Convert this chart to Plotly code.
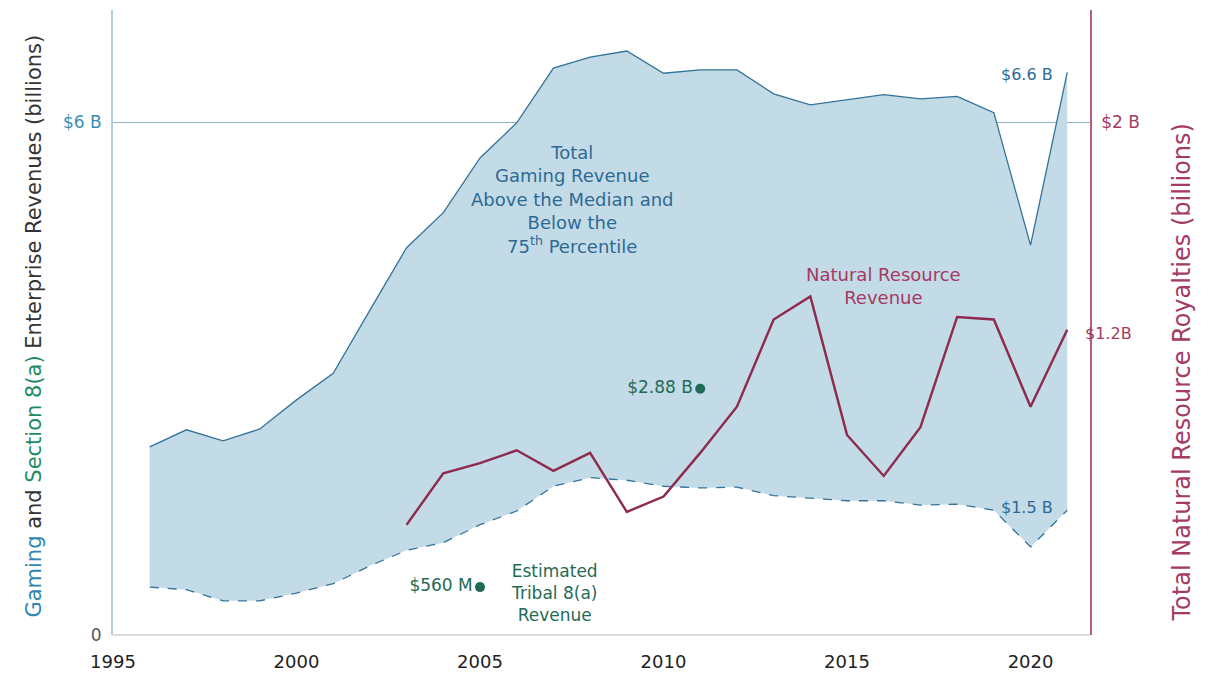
import plotly.graph_objects as go

years = list(range(1996, 2022))
gaming_75th = [2.20, 2.40, 2.27, 2.41, 2.75, 3.06, 3.80, 4.53, 4.94, 5.58, 5.99, 6.63, 6.76,
               6.83, 6.57, 6.61, 6.61, 6.33, 6.20, 6.26, 6.32, 6.27, 6.30, 6.11, 4.56, 6.58]
gaming_median = [0.56, 0.53, 0.40, 0.40, 0.49, 0.60, 0.81, 0.99, 1.08, 1.29, 1.45, 1.74, 1.84,
                 1.81, 1.74, 1.72, 1.73, 1.63, 1.60, 1.57, 1.57, 1.52, 1.53, 1.46, 1.03, 1.46]
nr_years = list(range(2003, 2022))
nat_resource = [0.43, 0.63, 0.67, 0.72, 0.64, 0.71, 0.48, 0.54, 0.71, 0.89, 1.23, 1.32,
                0.78, 0.62, 0.81, 1.24, 1.23, 0.89, 1.19]
tribal_8a_years = [2005, 2011]
tribal_8a = [0.56, 2.88]
tribal_8a_labels = ["$560 M", "$2.88 B"]
x_ticks = [1995, 2000, 2005, 2010, 2015, 2020]

BLUE_LINE = "#33739a"
FILL = "#c3dae7"
MAROON = "#8e2a4d"
MAROON_L = "#b0607d"
TXT_MAROON = "#a33b62"
TXT_BLUE = "#2d6a93"
GREEN = "#1f6b55"
WIDE = "DejaVu Sans, sans-serif"

Y_TOP = 7.31

fig = go.Figure()
fig.add_trace(go.Scatter(x=years, y=gaming_median, mode="lines",
                         line=dict(color=BLUE_LINE, width=1.3, dash="dash"),
                         showlegend=False, hoverinfo="skip"))
fig.add_trace(go.Scatter(x=years, y=gaming_75th, mode="lines", fill="tonexty",
                         fillcolor=FILL, line=dict(color=BLUE_LINE, width=1.3),
                         showlegend=False))
fig.add_trace(go.Scatter(x=nr_years, y=nat_resource, mode="lines", yaxis="y2",
                         line=dict(color=MAROON, width=2.4), showlegend=False))
fig.add_trace(go.Scatter(x=tribal_8a_years, y=tribal_8a, mode="markers+text",
                         marker=dict(color=GREEN, size=10),
                         text=tribal_8a_labels, textposition="middle left",
                         textfont=dict(color=GREEN, size=17, family=WIDE),
                         showlegend=False))

annos = []
annos.append(dict(x=2007.53, y=5.09, xref="x", yref="y",
                  text="Total<br>Gaming Revenue<br>Above the Median and<br>Below the<br>75<sup>th</sup> Percentile",
                  showarrow=False, font=dict(color=TXT_BLUE, size=18, family=WIDE),
                  align="center", yanchor="middle"))
annos.append(dict(x=2016.0, y=1.359, xref="x", yref="y2",
                  text="Natural Resource<br>Revenue", showarrow=False,
                  font=dict(color=TXT_MAROON, size=18, family=WIDE), align="center"))
annos.append(dict(x=2007.02, y=0.49, xref="x", yref="y",
                  text="Estimated<br>Tribal 8(a)<br>Revenue", showarrow=False,
                  font=dict(color=GREEN, size=17, family=WIDE), align="center"))
annos.append(dict(x=2020.67, y=6.55, xref="x", yref="y", text="$6.6 B", showarrow=False,
                  xanchor="right", font=dict(color=TXT_BLUE, size=16, family=WIDE)))
annos.append(dict(x=2020.67, y=1.49, xref="x", yref="y", text="$1.5 B", showarrow=False,
                  xanchor="right", font=dict(color=TXT_BLUE, size=16, family=WIDE)))
annos.append(dict(x=2021.43, y=1.177, xref="x", yref="y2", text="$1.2B", showarrow=False,
                  xanchor="left", font=dict(color=TXT_MAROON, size=16, family=WIDE)))
annos.append(dict(x=-0.0952, y=0.495, xref="paper", yref="paper", textangle=-90,
                  text=("<span style='color:#2f86b0'>Gaming</span> and "
                        "<span style='color:#1f8a63'>Section 8(a)</span> "
                        "Enterprise Revenues (billions)"),
                  showarrow=False, font=dict(color="#333333", size=21, family=WIDE)))
annos.append(dict(x=1.1105, y=0.42, xref="paper", yref="paper", textangle=-90,
                  text="Total Natural Resource Royalties (billions)",
                  showarrow=False, font=dict(color=TXT_MAROON, size=24, family=WIDE)))

fig.update_layout(
    width=1211, height=677,
    margin=dict(l=105, r=129, t=2, b=50),
    paper_bgcolor="white", plot_bgcolor="white",
    font=dict(family=WIDE),
    annotations=annos,
    xaxis=dict(range=[1995, 2021.62], tickvals=x_ticks, showgrid=False, zeroline=False,
               showline=False, ticks="", tickfont=dict(size=18, color="#222222"),
               ticklabelstandoff=14),
    yaxis=dict(range=[0, Y_TOP], tickvals=[0, 6],
               ticktext=["0", "<span style='color:#3a8db5'>$6 B</span>"],
               showgrid=True, gridcolor="#8fb0c2", gridwidth=1,
               zeroline=True, zerolinecolor="#dddddd", zerolinewidth=1.5,
               showline=True, linecolor="#b4cdda", linewidth=2,
               tickfont=dict(size=17, color="#555555"), ticklabelstandoff=6),
    yaxis2=dict(range=[0, Y_TOP / 3], tickvals=[2], ticktext=["$2 B"], overlaying="y",
                side="right", showgrid=False, zeroline=False,
                showline=True, linecolor=MAROON_L, linewidth=1.5,
                tickfont=dict(size=17, color=TXT_MAROON), ticklabelstandoff=6),
)

fig.write_html("out.html")
